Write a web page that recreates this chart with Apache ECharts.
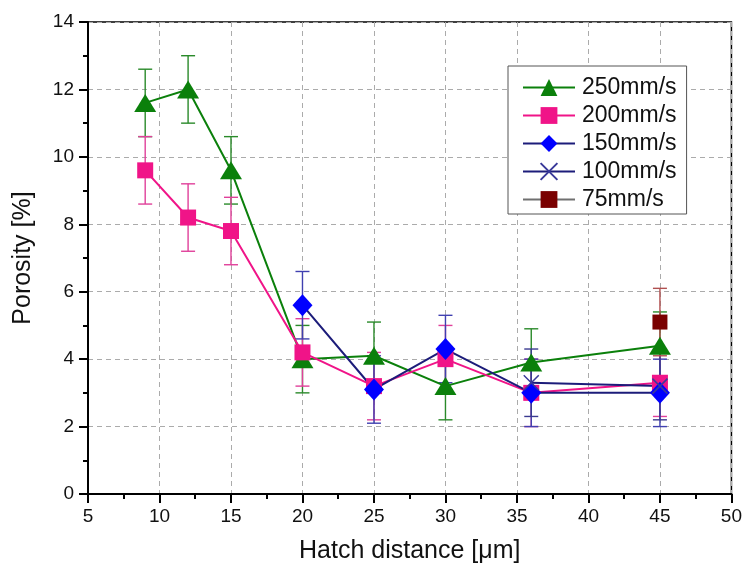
<!DOCTYPE html>
<html>
<head>
<meta charset="utf-8">
<title>Porosity vs hatch distance</title>
<script src="https://cdn.jsdelivr.net/npm/echarts@6/dist/echarts.min.js"></script>
<style>
  html, body { margin: 0; padding: 0; background: #fff; }
  #chart { width: 745px; height: 574px; }
</style>
</head>
<body>
<div id="chart"></div>
<script>
// Porosity (%) and error (±%) per scan speed, against hatch distance (µm)
const hatch250 = [9, 12, 15, 20, 25, 30, 36, 45];
const por250 = [11.6, 12.0, 9.6, 4.0, 4.1, 3.2, 3.9, 4.4];
const err250 = [1.0, 1.0, 1.0, 1.0, 1.0, 1.0, 1.0, 1.0];

const hatch200 = [9, 12, 15, 20, 25, 30, 36, 45];
const por200 = [9.6, 8.2, 7.8, 4.2, 3.2, 4.0, 3.0, 3.3];
const err200 = [1.0, 1.0, 1.0, 1.0, 1.0, 1.0, 1.0, 1.0];

const hatch150 = [20, 25, 30, 36, 45];
const por150 = [5.6, 3.1, 4.3, 3.0, 3.0];
const err150 = [1.0, 1.0, 1.0, 1.0, 1.0];

const hatch100 = [36, 45];
const por100 = [3.3, 3.2];
const err100 = [1.0, 1.0];

const hatch75 = [45];
const por75 = [5.1];
const err75 = [1.0];

const seriesNames = ['250mm/s', '200mm/s', '150mm/s', '100mm/s', '75mm/s'];
const xTicks = [5, 10, 15, 20, 25, 30, 35, 40, 45, 50];

const FONT = 'Liberation Sans, Arial, sans-serif';

function pairs(xs, ys) {
  return xs.map((x, i) => [x, ys[i]]);
}
function errRows(xs, ys, es) {
  return xs.map((x, i) => [x, ys[i] - es[i], ys[i] + es[i]]);
}

// Vertical error bar with caps, placed through the axes' own coordinate mapping
function errorBarSeries(xs, ys, es, color) {
  return {
    type: 'custom',
    silent: true,
    data: errRows(xs, ys, es),
    encode: { x: 0, y: [1, 2] },
    z: 2,
    renderItem: function (params, api) {
      const x = api.value(0);
      const top = api.coord([x, api.value(2)]);
      const bot = api.coord([x, api.value(1)]);
      const hw = 7;
      const st = { stroke: color, lineWidth: 1.4 };
      return {
        type: 'group',
        children: [
          { type: 'line', shape: { x1: top[0], y1: top[1], x2: bot[0], y2: bot[1] }, style: st },
          { type: 'line', shape: { x1: top[0] - hw, y1: top[1], x2: top[0] + hw, y2: top[1] }, style: st },
          { type: 'line', shape: { x1: bot[0] - hw, y1: bot[1], x2: bot[0] + hw, y2: bot[1] }, style: st }
        ]
      };
    }
  };
}

function lineSeries(name, xs, ys, lineColor, symbol, size, itemStyle) {
  return {
    name: name,
    type: 'line',
    data: pairs(xs, ys),
    symbol: symbol,
    symbolSize: size,
    showAllSymbol: true,
    z: 3,
    lineStyle: { color: lineColor, width: 2 },
    itemStyle: itemStyle
  };
}

const C250 = '#0b800b';
const C200 = '#f01488';
const C150 = '#0000ff';
const C100 = '#1c1c7a';
const C75 = '#7a0000';

const chart = echarts.init(document.getElementById('chart'), null, { renderer: 'canvas' });

chart.setOption({
  animation: false,
  backgroundColor: '#fff',
  textStyle: { fontFamily: FONT },
  grid: {
    left: 88, right: 13, top: 22, bottom: 80,
    show: true, borderColor: '#000', borderWidth: 1.5, backgroundColor: 'transparent'
  },
  legend: {
    data: seriesNames,
    orient: 'vertical',
    left: 508,
    top: 66,
    padding: [10, 10, 3, 14],
    itemGap: 5,
    itemWidth: 52,
    itemHeight: 21,
    borderColor: '#555',
    borderWidth: 1,
    backgroundColor: '#fff',
    textStyle: { fontFamily: FONT, fontSize: 23, color: '#111', padding: [0, 0, 0, 2] }
  },
  xAxis: {
    type: 'value',
    min: 5, max: 50, interval: 5,
    name: 'Hatch distance [μm]',
    nameLocation: 'middle',
    nameGap: 45,
    nameTextStyle: { fontFamily: FONT, fontSize: 25, color: '#111' },
    axisLine: { show: true, onZero: false, lineStyle: { color: '#000', width: 2 } },
    axisTick: { show: true, inside: false, length: 9, lineStyle: { color: '#000', width: 2 } },
    minorTick: { show: true, splitNumber: 2, length: 5, lineStyle: { color: '#000', width: 2 } },
    axisLabel: {
      fontFamily: FONT, fontSize: 19, color: '#111', margin: 13,
      formatter: v => (xTicks.indexOf(v) >= 0 ? String(v) : '')
    },
    splitLine: { show: true, lineStyle: { color: '#ababab', type: [5, 4], width: 1 } }
  },
  yAxis: {
    type: 'value',
    min: 0, max: 14, interval: 2,
    name: 'Porosity [%]',
    nameLocation: 'middle',
    nameGap: 52,
    nameRotate: 90,
    nameTextStyle: { fontFamily: FONT, fontSize: 25, color: '#111' },
    axisLine: { show: true, onZero: false, lineStyle: { color: '#000', width: 2 } },
    axisTick: { show: true, inside: false, length: 9, lineStyle: { color: '#000', width: 2 } },
    minorTick: { show: true, splitNumber: 2, length: 5, lineStyle: { color: '#000', width: 2 } },
    axisLabel: { fontFamily: FONT, fontSize: 19, color: '#111', margin: 14 },
    splitLine: { show: true, lineStyle: { color: '#ababab', type: [5, 4], width: 1 } }
  },
  series: [
    errorBarSeries(hatch250, por250, err250, '#2a8a2a'),
    lineSeries('250mm/s', hatch250, por250, C250, 'triangle', [22, 18], { color: C250 }),

    errorBarSeries(hatch200, por200, err200, '#e0409a'),
    lineSeries('200mm/s', hatch200, por200, C200, 'rect', [16, 16], { color: C200 }),

    errorBarSeries(hatch150, por150, err150, '#4040b0'),
    lineSeries('150mm/s', hatch150, por150, C100, 'diamond', [20, 22], { color: C150 }),

    errorBarSeries(hatch100, por100, err100, '#3a3a90'),
    lineSeries('100mm/s', hatch100, por100, C100, 'path://M0,0L10,10M10,0L0,10', [15, 15],
      { color: 'transparent', borderColor: '#3a3a9a', borderWidth: 1.5 }),

    errorBarSeries(hatch75, por75, err75, '#b05050'),
    lineSeries('75mm/s', hatch75, por75, '#707070', 'rect', [15, 15], { color: C75 })
  ]
});
</script>
</body>
</html>
